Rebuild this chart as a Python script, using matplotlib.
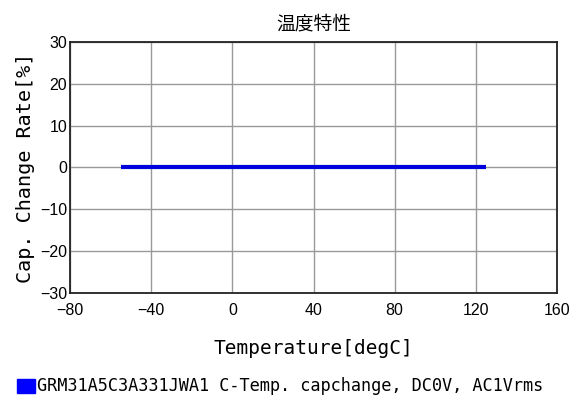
import matplotlib.pyplot as plt
from matplotlib.patches import Rectangle

plt.rcParams['font.family'] = ['Noto Sans CJK JP', 'DejaVu Sans']

# temperature sweep and capacitance change (flat C0G part)
temp = [-55, -45, -35, -25, -15, -5, 5, 15, 25, 35, 45, 55, 65, 75, 85, 95, 105, 115, 125]
cap_change = [0, 0, 0, 0, 0, 0, 0, 0, 0, 0, 0, 0, 0, 0, 0, 0, 0, 0, 0]
xticks = [-80, -40, 0, 40, 80, 120, 160]
yticks = [-30, -20, -10, 0, 10, 20, 30]
legend_text = 'GRM31A5C3A331JWA1 C-Temp. capchange, DC0V, AC1Vrms'

mono = ['DejaVu Sans Mono']
tickfont = ['Liberation Sans Narrow', 'Liberation Sans']

fig = plt.figure(figsize=(5.78, 4.05), dpi=100)
ax = fig.add_axes([70 / 578, 1 - 293 / 405, 487 / 578, 251 / 405])

ax.plot(temp, cap_change, color='#0000dd', lw=3, solid_capstyle='butt', zorder=3)

ax.set_xlim(-80, 160)
ax.set_ylim(-30, 30)
ax.set_xticks(xticks)
ax.set_yticks(yticks)
ax.tick_params(axis='x', length=0, pad=7)
ax.tick_params(axis='y', length=0, pad=2)
for lbl in ax.get_xticklabels() + ax.get_yticklabels():
    lbl.set_family(tickfont)
    lbl.set_fontsize(11.5)
ax.grid(True, color='#999999', lw=1)
for s in ax.spines.values():
    s.set_linewidth(1.3)
    s.set_color('#222222')

ax.set_title('温度特性', fontsize=13.5, weight='normal', pad=9)
ax.set_xlabel('Temperature[degC]', fontsize=14, family=mono, labelpad=15)
ax.set_ylabel('Cap. Change Rate[%]', fontsize=14.5, family=mono, labelpad=4)

fig.patches.append(Rectangle((17 / 578, 1 - 393 / 405), 18 / 578, 14 / 405,
                             transform=fig.transFigure, color='#0000ff'))
fig.text(37 / 578, 1 - 386 / 405, legend_text, fontsize=12.2, family=mono, va='center')

fig.savefig('out.png', dpi=100)
